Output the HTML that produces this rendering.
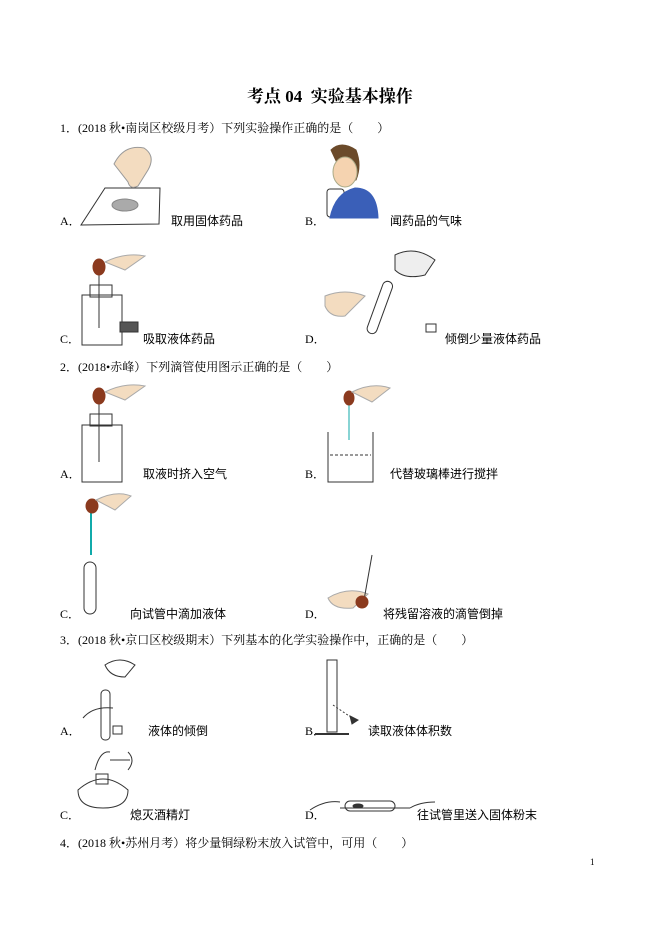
<!DOCTYPE html>
<html><head><meta charset="utf-8"><style>
body{margin:0;background:#fff;}
#p{position:relative;width:661px;height:935px;overflow:hidden;font-family:"Liberation Serif","Noto Serif CJK SC","Noto Sans CJK SC",serif;color:#000;}
.t{position:absolute;font-size:12px;line-height:14px;white-space:nowrap;}
.s{font-family:"Liberation Sans","Noto Sans CJK SC",sans-serif;}
svg{position:absolute;left:0;top:0;}
</style></head><body><div id="p">
<div class="t" style="left:247px;top:86px;font-size:17px;line-height:22px;font-weight:bold;">考点 04&nbsp; 实验基本操作</div>

<div class="t" style="left:60px;top:121px">1．(2018 秋•南岗区校级月考）下列实验操作正确的是（　　）</div>
<div class="t" style="left:60px;top:214px">A．</div><div class="t s" style="left:171px;top:214px">取用固体药品</div>
<div class="t" style="left:305px;top:214px">B．</div><div class="t s" style="left:390px;top:214px">闻药品的气味</div>
<div class="t" style="left:60px;top:332px">C．</div><div class="t s" style="left:143px;top:332px">吸取液体药品</div>
<div class="t" style="left:305px;top:332px">D．</div><div class="t s" style="left:445px;top:332px">倾倒少量液体药品</div>

<div class="t" style="left:60px;top:360px">2．(2018•赤峰）下列滴管使用图示正确的是（　　）</div>
<div class="t" style="left:60px;top:467px">A．</div><div class="t s" style="left:143px;top:467px">取液时挤入空气</div>
<div class="t" style="left:305px;top:467px">B．</div><div class="t s" style="left:390px;top:467px">代替玻璃棒进行搅拌</div>
<div class="t" style="left:60px;top:607px">C．</div><div class="t s" style="left:130px;top:607px">向试管中滴加液体</div>
<div class="t" style="left:305px;top:607px">D．</div><div class="t s" style="left:383px;top:607px">将残留溶液的滴管倒掉</div>

<div class="t" style="left:60px;top:633px">3．(2018 秋•京口区校级期末）下列基本的化学实验操作中，正确的是（　　）</div>
<div class="t" style="left:60px;top:724px">A．</div><div class="t s" style="left:148px;top:724px">液体的倾倒</div>
<div class="t" style="left:305px;top:724px">B．</div><div class="t s" style="left:368px;top:724px">读取液体体积数</div>
<div class="t" style="left:60px;top:808px">C．</div><div class="t s" style="left:130px;top:808px">熄灭酒精灯</div>
<div class="t" style="left:305px;top:808px">D．</div><div class="t s" style="left:417px;top:808px">往试管里送入固体粉末</div>

<div class="t" style="left:60px;top:836px">4．(2018 秋•苏州月考）将少量铜绿粉末放入试管中，可用（　　）</div>
<div class="t" style="left:590px;top:855px;font-size:9px">1</div>

<svg width="661" height="935" fill="none" stroke="#333" stroke-width="1">
<!-- Q1 A -->
<polygon points="81,225 159,224 160,188 105,188" />
<path d="M114,164 q10,-20 30,-16 q12,8 4,22 l-10,16 q-8,4 -10,-4 z" fill="#f3dcc0" stroke="#999"/>
<ellipse cx="125" cy="205" rx="13" ry="6" fill="#aaa" stroke="#888"/>
<!-- Q1 B -->
<rect x="327" y="189" width="17" height="28" rx="3"/>
<path d="M331,150 q10,-10 25,0 q6,15 0,30 l-10,2 z" fill="#6b4a2a" stroke="#6b4a2a"/>
<ellipse cx="345" cy="172" rx="12" ry="15" fill="#f5d3b0" stroke="#aa8"/>
<path d="M330,218 q5,-25 25,-30 q22,0 23,30 z" fill="#3a5fb8" stroke="#3a5fb8"/>
<!-- Q1 C -->
<rect x="82" y="295" width="40" height="50"/>
<rect x="90" y="285" width="22" height="12"/>
<line x1="99" y1="262" x2="99" y2="328"/>
<ellipse cx="99" cy="267" rx="6" ry="8" fill="#8b3a1e" stroke="#8b3a1e"/>
<path d="M105,262 q20,-10 40,-6 l-20,14 z" fill="#f3dcc0" stroke="#aaa"/>
<rect x="120" y="322" width="18" height="10" fill="#555"/>
<!-- Q1 D -->
<path d="M325,296 q20,-8 40,0 l-20,20 q-15,2 -20,-10z" fill="#f3dcc0" stroke="#aaa"/>
<rect x="375" y="280" width="10" height="55" rx="5" transform="rotate(20 380 307)"/>
<path d="M395,255 q20,-10 40,5 l-10,15 q-20,5 -30,-5 z" fill="#eee"/>
<rect x="426" y="324" width="10" height="8"/>
<!-- Q2 A -->
<rect x="82" y="425" width="40" height="57"/>
<rect x="90" y="414" width="22" height="12"/>
<line x1="99" y1="390" x2="99" y2="462"/>
<ellipse cx="99" cy="396" rx="6" ry="8" fill="#8b3a1e" stroke="#8b3a1e"/>
<path d="M105,392 q20,-10 40,-6 l-20,14 z" fill="#f3dcc0" stroke="#aaa"/>
<!-- Q2 B -->
<path d="M328,432 v50 h45 v-50"/>
<line x1="330" y1="455" x2="371" y2="455" stroke-dasharray="3,2"/>
<line x1="349" y1="395" x2="349" y2="440" stroke="#1aa"/>
<ellipse cx="349" cy="398" rx="5" ry="7" fill="#8b3a1e" stroke="#8b3a1e"/>
<path d="M352,392 q20,-10 38,-4 l-18,14 z" fill="#f3dcc0" stroke="#aaa"/>
<!-- Q2 C -->
<line x1="91" y1="510" x2="91" y2="555" stroke="#1aa" stroke-width="2"/>
<ellipse cx="92" cy="506" rx="6" ry="7" fill="#8b3a1e" stroke="#8b3a1e"/>
<path d="M96,500 q20,-10 35,-4 l-16,14 z" fill="#f3dcc0" stroke="#aaa"/>
<rect x="84" y="562" width="12" height="52" rx="6"/>
<!-- Q2 D -->
<path d="M328,598 q20,-12 40,-4 l-15,14 q-20,2 -25,-10z" fill="#f3dcc0" stroke="#aaa"/>
<line x1="372" y1="555" x2="364" y2="600"/>
<ellipse cx="362" cy="602" rx="6" ry="6" fill="#8b3a1e" stroke="#8b3a1e"/>
<!-- Q3 A -->
<rect x="101" y="690" width="9" height="50" rx="4"/>
<path d="M105,665 q15,-10 30,0 l-10,12 q-15,0 -20,-12z"/>
<path d="M83,718 q10,-12 30,-10"/>
<rect x="113" y="726" width="9" height="8"/>
<!-- Q3 B -->
<rect x="327" y="660" width="10" height="72"/>
<line x1="315" y1="734" x2="349" y2="734" stroke-width="2"/>
<line x1="333" y1="705" x2="355" y2="720" stroke-dasharray="2,2"/>
<path d="M350,716 l8,4 l-6,4z" fill="#333"/>
<!-- Q3 C -->
<path d="M78,790 q25,-22 50,0 q0,18 -25,18 q-25,0 -25,-18z"/>
<rect x="96" y="774" width="12" height="10"/>
<path d="M95,770 q5,-20 15,-18 M110,760 h20 M128,752 q8,8 0,18"/>
<!-- Q3 D -->
<path d="M310,810 q15,-10 30,-8 M340,808 h70 M410,808 q10,-6 25,-6"/>
<rect x="345" y="801" width="50" height="10" rx="5"/>
<ellipse cx="358" cy="806" rx="5" ry="2" fill="#333"/>
</svg>
</div></body></html>
